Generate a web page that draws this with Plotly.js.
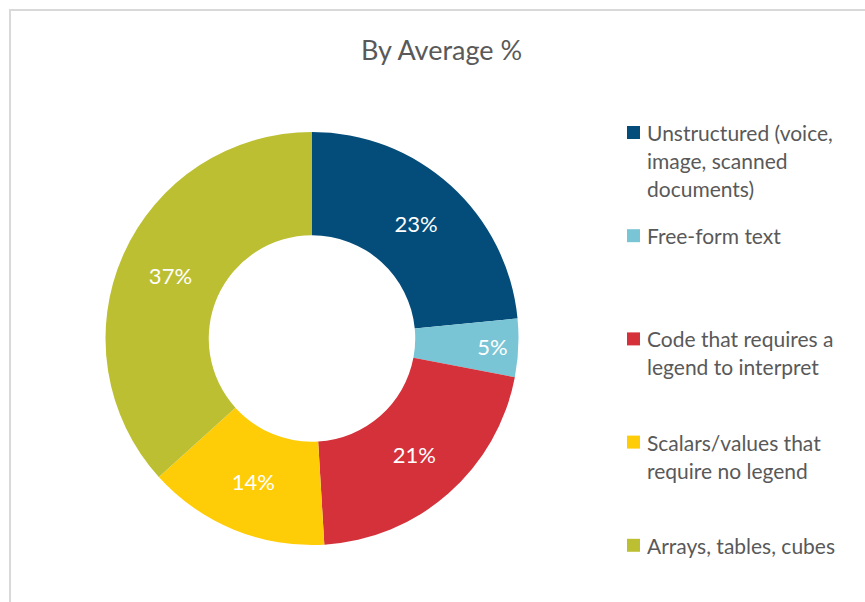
<!DOCTYPE html>
<html>
<head>
<meta charset="utf-8">
<script src="https://cdn.plot.ly/plotly-3.0.1.min.js"></script>
<style>
  html, body { margin: 0; padding: 0; background: #ffffff; }
  #chart { width: 865px; height: 602px; }
</style>
</head>
<body>
<div id="chart"></div>
<script>
// ---- Data ----
const categories = [
  "Unstructured (voice,<br>image, scanned<br>documents)",
  "Free-form text",
  "Code that requires a<br>legend to interpret",
  "Scalars/values that<br>require no legend",
  "Arrays, tables, cubes"
];
// shares (labels show them rounded)
const values = [23.45, 4.55, 21.05, 14.25, 36.7];
const colors = ["#044D7A", "#79C5D5", "#D4313A", "#FFCC08", "#BDBF33"];
const chartTitle = "By Average %";

// ---- Layout helpers (pixel -> paper, margins are zero) ----
const W = 865, H = 602;
const px = x => x / W;
const py = y => 1 - y / H;

const textColor = "#595959";
const fontFamily = "Lato, 'Open Sans', sans-serif";

// pie geometry
const cx = 312, cy = 338.5, R = 206.5;

const trace = {
  type: "pie",
  labels: categories.map(c => c.replace(/<br>/g, " ")),
  values: values,
  sort: false,
  direction: "clockwise",
  rotation: 0,
  hole: 0.5,
  marker: { colors: colors, line: { width: 0 } },
  textinfo: "percent",
  texttemplate: "%{percent:.0%}",
  textposition: "inside",
  insidetextorientation: "horizontal",
  insidetextfont: { color: "#ffffff", size: 22, family: fontFamily },
  hoverinfo: "label+percent",
  showlegend: false,
  domain: { x: [px(cx - R), px(cx + R)], y: [py(cy + R), py(cy - R)] }
};

// legend drawn as shapes + annotations
const legendX = 627, legendSq = 13, legendTextX = 645;
const legendTop = 132.5, legendStep = 103.2, lineGap = 28;

const shapes = [
  // chart-area border (cropped on right and bottom)
  { type: "rect", xref: "paper", yref: "paper",
    x0: px(10), x1: px(W + 20), y0: py(H + 20), y1: py(10),
    line: { color: "#D9D9D9", width: 2 }, fillcolor: "rgba(0,0,0,0)" }
];
const annotations = [
  { text: chartTitle, xref: "paper", yref: "paper", x: px(442), y: py(49),
    xanchor: "center", yanchor: "middle", showarrow: false,
    font: { family: fontFamily, size: 27, color: textColor } }
];

categories.forEach((cat, i) => {
  const yTop = legendTop + i * legendStep;
  shapes.push({
    type: "rect", xref: "paper", yref: "paper",
    x0: px(legendX), x1: px(legendX + legendSq),
    y0: py(yTop + legendSq / 2), y1: py(yTop - legendSq / 2),
    fillcolor: colors[i], line: { width: 0 }
  });
  cat.split("<br>").forEach((line, j) => {
    annotations.push({
      text: line, xref: "paper", yref: "paper",
      x: px(legendTextX), y: py(yTop + j * lineGap),
      xanchor: "left", yanchor: "middle", showarrow: false,
      font: { family: fontFamily, size: 21, color: textColor }
    });
  });
});

const layout = {
  width: W, height: H,
  margin: { l: 0, r: 0, t: 0, b: 0 },
  paper_bgcolor: "#ffffff",
  plot_bgcolor: "#ffffff",
  showlegend: false,
  shapes: shapes,
  annotations: annotations
};

Plotly.newPlot("chart", [trace], layout, { displayModeBar: false, staticPlot: true });
</script>
</body>
</html>
